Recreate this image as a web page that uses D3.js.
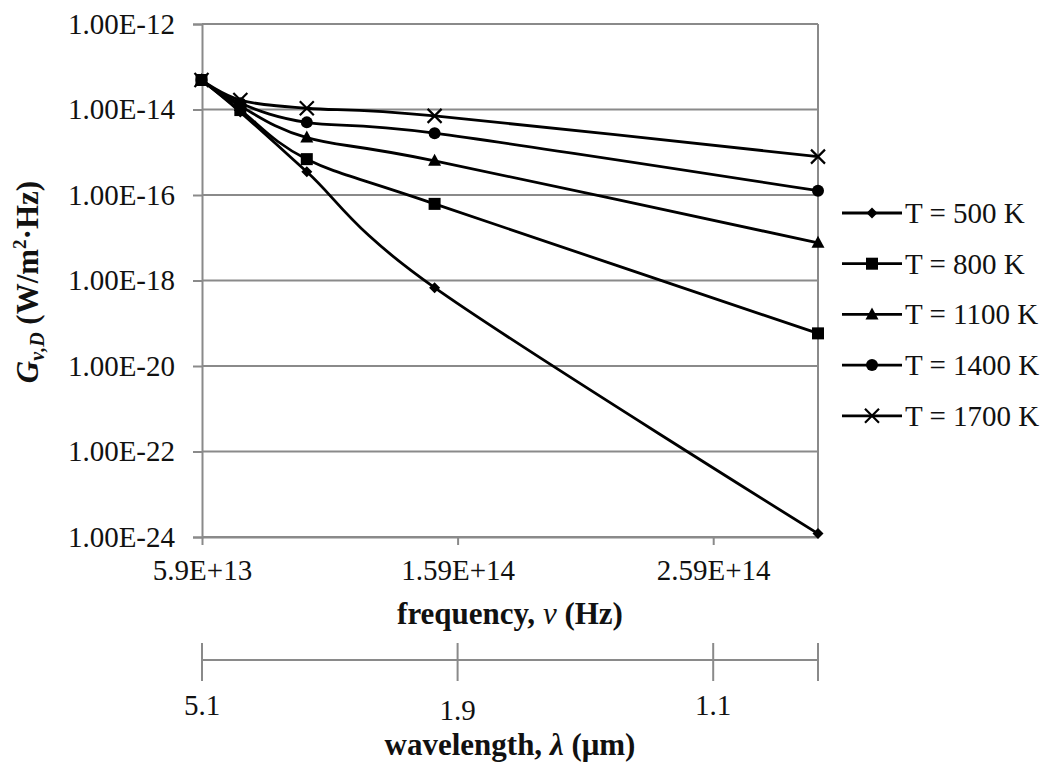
<!DOCTYPE html>
<html>
<head>
<meta charset="utf-8">
<script src="https://cdn.jsdelivr.net/npm/d3@7"></script>
<style>
  html, body { margin: 0; padding: 0; background: #fff; }
  svg { display: block; font-family: "Liberation Serif", "Times New Roman", serif; }
</style>
</head>
<body>
<svg id="chart" width="1050" height="768"></svg>
<script>
// ---- data ----
const frequencies = [5.88e13, 7.4e13, 1.0e14, 1.5e14, 3.0e14];
const seriesNames = ["T = 500 K", "T = 800 K", "T = 1100 K", "T = 1400 K", "T = 1700 K"];
const seriesMarkers = ["diamond", "square", "triangle", "circle", "cross"];
const values500  = [4.9e-14, 8.7e-15, 3.5e-16, 6.8e-19, 1.2e-24];
const values800  = [4.9e-14, 9.7e-15, 6.9e-16, 6.2e-17, 5.8e-20];
const values1100 = [4.9e-14, 1.2e-14, 2.2e-15, 6.3e-16, 7.6e-18];
const values1400 = [4.9e-14, 1.4e-14, 5.0e-15, 2.8e-15, 1.26e-16];
const values1700 = [4.9e-14, 1.66e-14, 1.07e-14, 7.1e-15, 7.9e-16];
const yTickValues = [1e-24, 1e-22, 1e-20, 1e-18, 1e-16, 1e-14, 1e-12];
const yTickLabels = ["1.00E-24", "1.00E-22", "1.00E-20", "1.00E-18", "1.00E-16", "1.00E-14", "1.00E-12"];
const xTickValues = [5.9e13, 1.59e14, 2.59e14];
const xTickLabels = ["5.9E+13", "1.59E+14", "2.59E+14"];
const wlTickValues = [5.9e13, 1.59e14, 2.59e14, 3.0e14];
const wlTickLabels = ["5.1", "1.9", "1.1", ""];

const allSeries = [values500, values800, values1100, values1400, values1700];

// ---- layout ----
const L = 202, R = 818, T = 24, B = 537;
const GRID = "#8a8a8a";
const FONT = 29;
const TITLE_FONT = 31;

const svg = d3.select("#chart");
const x = d3.scaleLinear().domain([5.9e13, 3.0e14]).range([L, R]);
const y = d3.scaleLog().domain([1e-24, 1e-12]).range([B, T]);

// gridlines
svg.append("g").selectAll("line").data(yTickValues).join("line")
  .attr("x1", L).attr("x2", R)
  .attr("y1", d => y(d)).attr("y2", d => y(d))
  .attr("stroke", GRID).attr("stroke-width", 2);

// right border line
svg.append("line").attr("x1", R).attr("x2", R).attr("y1", T).attr("y2", B)
  .attr("stroke", GRID).attr("stroke-width", 2);

// y axis
const yAxis = d3.axisLeft(y).tickValues(yTickValues)
  .tickFormat((d, i) => yTickLabels[i]).tickSize(9).tickPadding(18);
const gy = svg.append("g").attr("transform", `translate(${L},0)`).call(yAxis);
gy.select(".domain").attr("stroke", GRID).attr("stroke-width", 2);
gy.selectAll(".tick line").attr("stroke", GRID).attr("stroke-width", 2);
gy.selectAll(".tick text").attr("font-size", FONT).attr("fill", "#111")
  .attr("font-family", "Liberation Serif, Times New Roman, serif");

// x axis
const xAxis = d3.axisBottom(x).tickValues(xTickValues)
  .tickFormat((d, i) => xTickLabels[i]).tickSize(8).tickSizeOuter(0).tickPadding(14);
const gx = svg.append("g").attr("transform", `translate(0,${B})`).call(xAxis);
gx.select(".domain").attr("stroke", GRID).attr("stroke-width", 2);
gx.selectAll(".tick line").attr("stroke", GRID).attr("stroke-width", 2);
gx.selectAll(".tick text").attr("font-size", FONT).attr("fill", "#111")
  .attr("font-family", "Liberation Serif, Times New Roman, serif");

// wavelength axis (secondary scale drawn below)
const WY = 660;
svg.append("line").attr("x1", x(wlTickValues[0])).attr("x2", x(wlTickValues[wlTickValues.length - 1]))
  .attr("y1", WY).attr("y2", WY).attr("stroke", GRID).attr("stroke-width", 2);
svg.append("g").selectAll("line").data(wlTickValues).join("line")
  .attr("x1", d => x(d)).attr("x2", d => x(d))
  .attr("y1", WY - 17).attr("y2", WY + 21)
  .attr("stroke", GRID).attr("stroke-width", 2);
svg.append("g").selectAll("text").data(wlTickValues).join("text")
  .attr("x", d => x(d)).attr("y", (d, i) => i === 1 ? 720 : 715)
  .attr("text-anchor", "middle").attr("font-size", FONT).attr("fill", "#111")
  .text((d, i) => wlTickLabels[i]);

// axis titles
const fx = svg.append("text").attr("x", (L + R) / 2).attr("y", 624)
  .attr("text-anchor", "middle").attr("font-size", TITLE_FONT).attr("font-weight", "bold").attr("fill", "#111");
fx.append("tspan").text("frequency, ");
fx.append("tspan").attr("font-style", "italic").attr("font-weight", "normal").text("ν");
fx.append("tspan").text(" (Hz)");

const fw = svg.append("text").attr("x", (L + R) / 2).attr("y", 755)
  .attr("text-anchor", "middle").attr("font-size", TITLE_FONT).attr("font-weight", "bold").attr("fill", "#111");
fw.append("tspan").text("wavelength, ");
fw.append("tspan").attr("font-style", "italic").text("λ");
fw.append("tspan").text(" (μm)");

const fy = svg.append("text").attr("transform", "translate(38,282) rotate(-90)")
  .attr("text-anchor", "middle").attr("font-size", TITLE_FONT).attr("font-weight", "bold").attr("fill", "#111");
fy.append("tspan").attr("font-style", "italic").text("G");
fy.append("tspan").attr("font-style", "italic").attr("font-size", 20).attr("dy", 6).text("ν,D");
fy.append("tspan").attr("dy", -6).text(" (W/m");
fy.append("tspan").attr("font-size", 19).attr("dy", -12).text("2");
fy.append("tspan").attr("dy", 12).text("·Hz)");

// marker drawer
function drawMarker(g, type, cx, cy) {
  if (type === "diamond") {
    g.append("path").attr("d", `M${cx},${cy - 5.5}L${cx + 5.5},${cy}L${cx},${cy + 5.5}L${cx - 5.5},${cy}Z`).attr("fill", "#000");
  } else if (type === "square") {
    g.append("rect").attr("x", cx - 6).attr("y", cy - 6).attr("width", 12).attr("height", 12).attr("fill", "#000");
  } else if (type === "triangle") {
    g.append("path").attr("d", `M${cx},${cy - 7}L${cx + 6.5},${cy + 5}L${cx - 6.5},${cy + 5}Z`).attr("fill", "#000");
  } else if (type === "circle") {
    g.append("circle").attr("cx", cx).attr("cy", cy).attr("r", 6).attr("fill", "#000");
  } else if (type === "cross") {
    g.append("path").attr("d", `M${cx - 7},${cy - 7}L${cx + 7},${cy + 7}M${cx - 7},${cy + 7}L${cx + 7},${cy - 7}`)
      .attr("stroke", "#000").attr("stroke-width", 2.2).attr("fill", "none");
  }
}

// series lines
const line = d3.line().x(d => x(d[0])).y(d => y(d[1])).curve(d3.curveCatmullRom.alpha(0));
allSeries.forEach((vals, si) => {
  const pts = frequencies.map((f, i) => [f, vals[i]]);
  const g = svg.append("g");
  g.append("path").attr("d", line(pts)).attr("fill", "none").attr("stroke", "#000").attr("stroke-width", 2.8);
  pts.forEach(p => drawMarker(g, seriesMarkers[si], x(p[0]), y(p[1])));
});

// legend
const legY0 = 213, legDY = 50.7;
seriesNames.forEach((name, i) => {
  const ly = legY0 + i * legDY;
  const g = svg.append("g");
  g.append("line").attr("x1", 842).attr("x2", 902).attr("y1", ly).attr("y2", ly)
    .attr("stroke", "#000").attr("stroke-width", 2.8);
  drawMarker(g, seriesMarkers[i], 872, ly);
  g.append("text").attr("x", 905).attr("y", ly + 10).attr("font-size", FONT).attr("fill", "#111").text(name);
});
</script>
</body>
</html>
